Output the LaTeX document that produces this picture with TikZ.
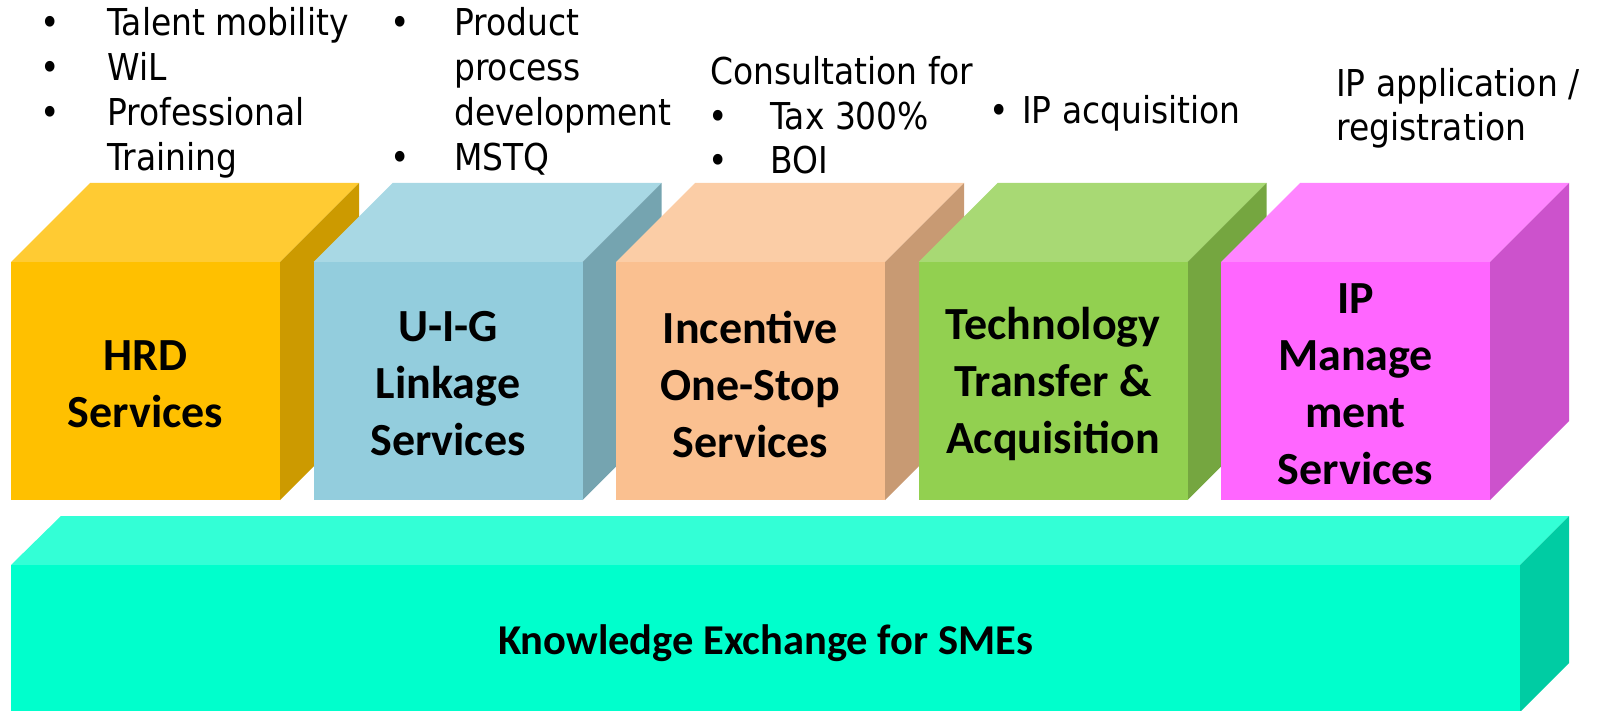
\documentclass[tikz,border=0pt]{standalone}
\usepackage{fontspec}
\setmainfont{DejaVu Sans}[FakeStretch=0.89]
\newfontfamily\lblfont{Carlito}
\definecolor{hrdF}{HTML}{FFC000}\definecolor{hrdT}{HTML}{FFCB33}\definecolor{hrdS}{HTML}{CC9A00}
\definecolor{uigF}{HTML}{93CDDD}\definecolor{uigT}{HTML}{A8D8E4}\definecolor{uigS}{HTML}{75A4B0}
\definecolor{incF}{HTML}{FAC090}\definecolor{incT}{HTML}{FBCDA6}\definecolor{incS}{HTML}{C89A73}
\definecolor{tecF}{HTML}{92D050}\definecolor{tecT}{HTML}{A8D974}\definecolor{tecS}{HTML}{75A640}
\definecolor{ipmF}{HTML}{FF66FF}\definecolor{ipmT}{HTML}{FF85FF}\definecolor{ipmS}{HTML}{CC52CC}
\definecolor{barF}{HTML}{00FFCC}\definecolor{barT}{HTML}{33FFD6}\definecolor{barS}{HTML}{00CCA3}
\tikzset{
  lbl/.style={align=center, inner sep=0pt, text=black, font={\lblfont\bfseries\fontsize{46}{57}\selectfont}},
  barlbl/.style={inner sep=0pt, text=black, font={\lblfont\bfseries\fontsize{42.5}{50}\selectfont}},
  toptext/.style={inner sep=0pt, anchor=base west, text=black, font={\fontsize{37}{44.5}\selectfont}},
  bul/.style={inner sep=0pt, anchor=base, text=black, font={\fontsize{37}{44.5}\selectfont}}
}
% #1 left x of front face, #2 prefix colour name, #3 node name, #4 label
\newcommand\cubebox[4]{%
  \fill[#2T] (#1,262) -- ++(79,-79) -- ++(269,0) -- ++(-79,79) -- cycle;
  \fill[#2S] (#1+269,262) -- ++(79,-79) -- ++(0,238) -- ++(-79,79) -- cycle;
  \fill[#2F] (#1,262) rectangle ++(269,238);
  \node[lbl] (#3) at (#1+134.5,384) {#4};
}
\begin{document}
\begin{tikzpicture}[x=1pt,y=-1pt]
\useasboundingbox (0,0) rectangle (1597,711);
\cubebox{11}{hrd}{hrd}{HRD\\Services}
\cubebox{313.5}{uig}{uig}{U-I-G\\Linkage\\Services}
\cubebox{616}{inc}{inc}{Incentive\\One-Stop\\Services}
\cubebox{918.5}{tec}{tec}{Technology\\Transfer \&\\Acquisition}
\cubebox{1221}{ipm}{ipm}{IP\\Manage\\ment\\Services}
% base bar
\fill[barT] (11,565) -- (61,516) -- (1569,516) -- (1520,565) -- cycle;
\fill[barS] (1520,565) -- (1569,516) -- (1569,663) -- (1520,712) -- cycle;
\fill[barF] (11,565) rectangle (1520,712);
\node[barlbl] (kx) at (765.5,643) {Knowledge Exchange for SMEs};
% column 1
\node[bul] (b1a) at (50,35.5) {•};
\node[toptext] (t1a) at (107,35.5) {Talent mobility};
\node[bul] (b1b) at (50,81) {•};
\node[toptext] (t1b) at (107,81) {WiL};
\node[bul] (b1c) at (50,125.5) {•};
\node[toptext] (t1c) at (107,125.5) {Professional};
\node[toptext] (t1d) at (107,171) {Training};
% column 2
\node[bul] (b2a) at (400,35.5) {•};
\node[toptext] (t2a) at (454,35.5) {Product};
\node[toptext] (t2b) at (454,81) {process};
\node[toptext] (t2c) at (454,125.5) {development};
\node[bul] (b2d) at (400,171) {•};
\node[toptext] (t2d) at (454,171) {MSTQ};
% column 3
\node[toptext] (t3a) at (710,85) {Consultation for};
\node[bul] (b3b) at (718,130) {•};
\node[toptext] (t3b) at (770,130) {Tax 300\%};
\node[bul] (b3c) at (718,174) {•};
\node[toptext] (t3c) at (770,174) {BOI};
% column 4
\node[bul] (b4a) at (999,124) {•};
\node[toptext] (t4a) at (1022,124) {IP acquisition};
% column 5
\node[toptext] (t5a) at (1336,97) {IP application /};
\node[toptext] (t5b) at (1336,141) {registration};
\end{tikzpicture}
\end{document}
